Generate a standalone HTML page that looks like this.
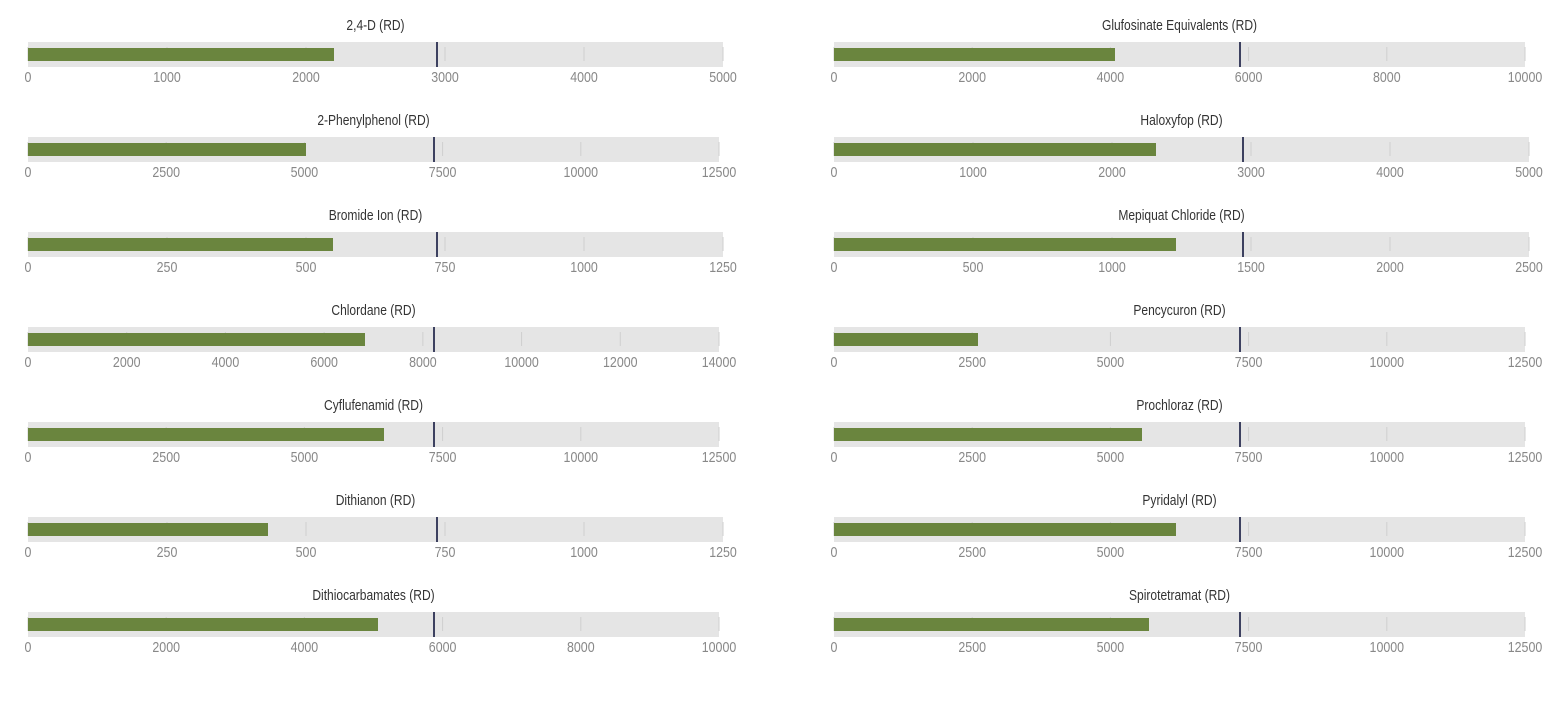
<!DOCTYPE html>
<html><head><meta charset="utf-8"><style>
html,body{margin:0;padding:0;background:#fff;width:1558px;height:701px;overflow:hidden}
svg text{font-family:"Liberation Sans Narrow","Liberation Sans",sans-serif}
</style></head><body>
<svg id="s" width="1558" height="701" xmlns="http://www.w3.org/2000/svg"></svg>
<script>
var L=[["2,4-D (RD)",5000,1000,723,334,437],["2-Phenylphenol (RD)",12500,2500,719,306,434],["Bromide Ion (RD)",1250,250,723,333,437],["Chlordane (RD)",14000,2000,719,365,434],["Cyflufenamid (RD)",12500,2500,719,384,434],["Dithianon (RD)",1250,250,723,268,437],["Dithiocarbamates (RD)",10000,2000,719,378,434]];
var R=[["Glufosinate Equivalents (RD)",10000,2000,1525,1115,1240],["Haloxyfop (RD)",5000,1000,1529,1156,1243],["Mepiquat Chloride (RD)",2500,500,1529,1176,1243],["Pencycuron (RD)",12500,2500,1525,978,1240],["Prochloraz (RD)",12500,2500,1525,1142,1240],["Pyridalyl (RD)",12500,2500,1525,1176,1240],["Spirotetramat (RD)",12500,2500,1525,1149,1240]];
var h="";
function draw(c,x0,i){
 var y=i*95, t=c[0],max=c[1],st=c[2],x1=c[3],W=x1-x0;
 h+='<text transform="translate('+((x0+x1)/2)+','+(y+30)+') scale(0.86,1.05)" font-size="14" fill="#333" text-anchor="middle">'+t+'</text>';
 h+='<rect x="'+x0+'" y="'+(y+42)+'" width="'+W+'" height="25" fill="#e5e5e5"/>';
 for(var v=0;v<=max;v+=st){var x=x0+W*v/max;
  h+='<line x1="'+x+'" x2="'+x+'" y1="'+(y+47)+'" y2="'+(y+61)+'" stroke="#cfcfcf" stroke-width="1"/>';
  h+='<text transform="translate('+x+','+(y+82)+') scale(0.92,1.1)" font-size="13.5" fill="#888" text-anchor="middle">'+v+'</text>';}
 h+='<rect x="'+x0+'" y="'+(y+48)+'" width="'+(c[4]-x0)+'" height="13" fill="#6a853e"/>';
 h+='<rect x="'+(c[5]-1)+'" y="'+(y+42)+'" width="2" height="25" fill="#3d4160"/>';
}
L.forEach(function(c,i){draw(c,28,i)});
R.forEach(function(c,i){draw(c,834,i)});
document.getElementById("s").innerHTML=h;
</script>
</body></html>
